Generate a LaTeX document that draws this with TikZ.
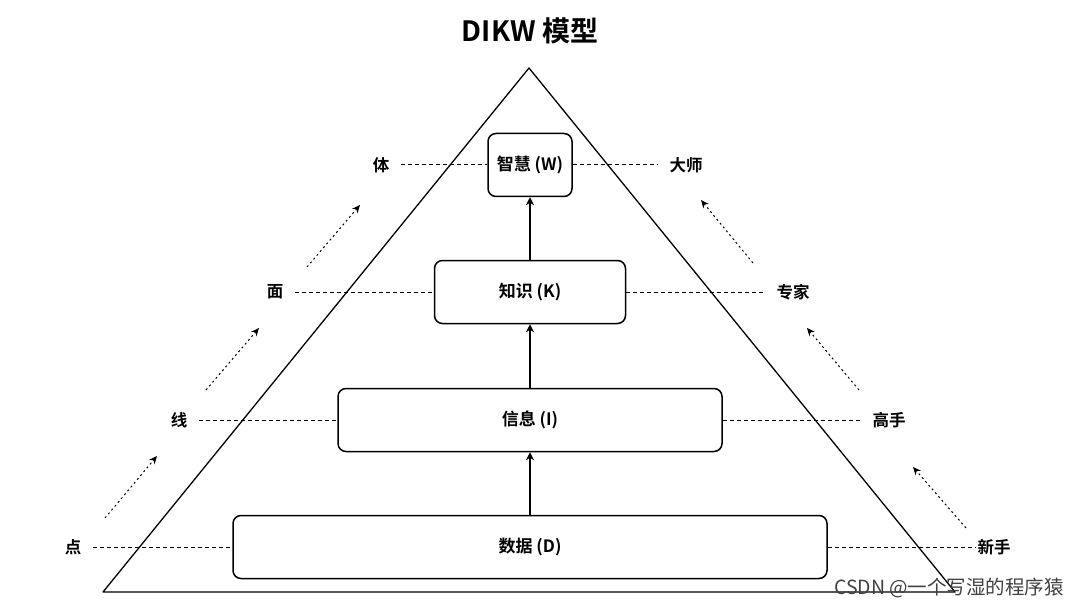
\documentclass[tikz,border=0pt]{standalone}
\usepackage{fontspec}
\setmainfont{Noto Sans CJK SC}[BoldFont={Noto Sans CJK SC Bold}]
\usetikzlibrary{arrows.meta}
\tikzset{
  layer/.style={draw, rounded corners=8pt, line width=1.5pt, minimum height=63pt, inner sep=0pt, font=\fontsize{17}{20}\selectfont\bfseries},
  side/.style={inner sep=12pt, font=\fontsize{16.5}{18}\selectfont\bfseries},
  guide/.style={dash pattern=on 4pt off 3pt, line width=1pt},
  climb/.style={-{Stealth[length=8pt,width=7pt]}, dash pattern=on 2pt off 3pt, line width=1pt},
}
\begin{document}
\begin{tikzpicture}[>={Stealth[length=8pt,width=8pt]}, x=1pt, y=-1pt, line join=round]
\useasboundingbox (0,0) rectangle (1080,607);
\node[font=\fontsize{28}{32}\selectfont\bfseries] (title) at (530,31) {DIKW 模型};
% pyramid
\draw[line width=1.3pt] (529,68) -- (103,592) -- (955,592) -- cycle;
% layers
\node[layer, minimum width=84pt] (W) at (530,165) {智慧 (W)};
\node[layer, minimum width=191pt] (K) at (530,292) {知识 (K)};
\node[layer, minimum width=384pt] (I) at (530,420) {信息 (I)};
\node[layer, minimum width=594pt] (D) at (530,547) {数据 (D)};
\draw[->, line width=1.5pt] (D) -- (I);
\draw[->, line width=1.5pt] (I) -- (K);
\draw[->, line width=1.5pt] (K) -- (W);
% left side
\node[side] (ti) at (381,165) {体};
\node[side] (mian) at (275,292) {面};
\node[side] (xian) at (179,420) {线};
\node[side] (dian) at (73,547) {点};
\draw[guide] (ti) -- (W);
\draw[guide] (mian) -- (K);
\draw[guide] (xian) -- (I);
\draw[guide] (dian) -- (D);
% right side
\node[side] (dashi) at (686,165) {大师};
\node[side] (zhuanjia) at (793,292) {专家};
\node[side] (gaoshou) at (889,420) {高手};
\node[side, inner sep=1pt] (xinshou) at (994,547) {新手};
\draw[guide] (W) -- (dashi);
\draw[guide] (K) -- (zhuanjia);
\draw[guide] (I) -- (gaoshou);
\draw[guide] (D) -- (xinshou);
% growth arrows
\coordinate (l1a) at (105,518); \coordinate (l1b) at (157,456);
\coordinate (l2a) at (206,390); \coordinate (l2b) at (259,328);
\coordinate (l3a) at (307,267); \coordinate (l3b) at (360,205);
\coordinate (r1a) at (966,528); \coordinate (r1b) at (913,467);
\coordinate (r2a) at (859,390); \coordinate (r2b) at (807,328);
\coordinate (r3a) at (753,263); \coordinate (r3b) at (701,200);
\draw[climb] (l1a) -- (l1b);
\draw[climb] (l2a) -- (l2b);
\draw[climb] (l3a) -- (l3b);
\draw[climb] (r1a) -- (r1b);
\draw[climb] (r2a) -- (r2b);
\draw[climb] (r3a) -- (r3b);
\node[font=\fontsize{19.5}{22}\selectfont, text=black!75] (mark) at (949,588) {CSDN @一个写湿的程序猿};
\end{tikzpicture}
\end{document}
